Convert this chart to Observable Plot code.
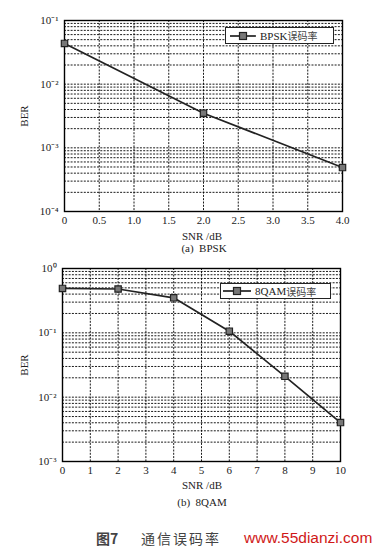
<!DOCTYPE html>
<html>
<head>
<meta charset="utf-8">
<script src="https://cdn.jsdelivr.net/npm/d3@7"></script>
<script src="https://cdn.jsdelivr.net/npm/@observablehq/plot@0.6"></script>
<style>
  html, body { margin: 0; padding: 0; background: #fff; }
  #page { position: relative; width: 378px; height: 551px; overflow: hidden; font-family: "Liberation Serif", "Noto Sans CJK SC", serif; color: #222; }
  .lbl { font-size: 11px; line-height: 12px; height: 12px; text-align: center; margin-left: 62px; width: 280px; }
  .legend { position: absolute; background: #fff; border: 1px solid #222; box-sizing: border-box; font-size: 11px; display: flex; align-items: center; white-space: nowrap; }
  .legend svg { display: block; margin-right: 3px; }
  .cjk { font-family: "Noto Sans CJK SC", sans-serif; font-size: 10px; color: #444; }
  #caption { position: absolute; left: 0; top: 529px; width: 378px; height: 18px; }
  #caption span { position: absolute; top: 0; line-height: 18px; }
</style>
</head>
<body>
<div id="page">
  <div id="c1"></div>
  <div class="lbl" style="margin-top:4px">SNR /dB</div>
  <div class="lbl" style="margin-left:64px">(a)&nbsp; BPSK</div>
  <div id="c2"></div>
  <div class="lbl" style="margin-top:3px">SNR /dB</div>
  <div class="lbl" style="margin-top:5px">(b)&nbsp; 8QAM</div>

  <div class="legend" style="left:225px;top:27px;width:109px;height:17px;padding-left:3px">
    <svg width="28" height="10"><line x1="1" y1="5" x2="27" y2="5" stroke="#222" stroke-width="1.7"/><rect x="10.5" y="1.5" width="7" height="7" fill="#777" stroke="#222" stroke-width="1.2"/></svg>
    <span>BPSK</span><span class="cjk">误码率</span>
  </div>
  <div class="legend" style="left:220px;top:283px;width:111px;height:16px;padding-left:1px">
    <svg width="30" height="10"><line x1="1" y1="5" x2="29" y2="5" stroke="#222" stroke-width="1.7"/><rect x="11.5" y="1.5" width="7" height="7" fill="#777" stroke="#222" stroke-width="1.2"/></svg>
    <span>8QAM</span><span class="cjk">误码率</span>
  </div>

  <div id="caption">
    <span style="left:96px;font-family:'Noto Sans CJK SC';font-size:14px;font-weight:bold;color:#444">图7</span>
    <span style="left:141px;font-family:'Noto Sans CJK SC';font-size:14px;letter-spacing:2px;color:#444">通信误码率</span>
    <span style="left:244px;font-family:'Liberation Sans',Arial,sans-serif;font-size:15.5px;color:#d01818">www.55dianzi.com</span>
  </div>
</div>
<script>
// ---- data ----
const snrBpsk = [0, 2, 4];
const berBpsk = [0.0436, 0.0035, 0.00049];
const snr8qam = [0, 2, 4, 6, 8, 10];
const ber8qam = [0.49, 0.48, 0.35, 0.106, 0.0211, 0.00403];

const xTicksBpsk = [0, 0.5, 1, 1.5, 2, 2.5, 3, 3.5, 4];
const xLabelsBpsk = ["0", "0.5", "1.0", "1.5", "2.0", "2.5", "3.0", "3.5", "4.0"];
const xTicks8qam = [0, 1, 2, 3, 4, 5, 6, 7, 8, 9, 10];
const yTicksBpsk = [1e-4, 1e-3, 1e-2, 1e-1];
const yTicks8qam = [1e-3, 1e-2, 1e-1, 1];

const SUP = {"-": "⁻", "0": "⁰", "1": "¹", "2": "²", "3": "³", "4": "⁴"};
function powLabel(d) {
  const e = String(Math.round(Math.log10(d)));
  return "10" + e.split("").map(c => SUP[c]).join("");
}

function logGrid(lo, hi) {
  const out = [];
  for (let e = lo; e < hi; e++) for (let m = 1; m <= 9; m++) out.push(m * Math.pow(10, e));
  out.push(Math.pow(10, hi));
  return out;
}

function chart({xs, ys, xTicks, xLabels, yTicks, xDomain, yExp, height, mt, mb, ml, mr}) {
  const data = xs.map((x, i) => ({x, y: ys[i]}));
  const yDomain = [Math.pow(10, yExp[0]), Math.pow(10, yExp[1])];
  const xFmt = new Map(xTicks.map((t, i) => [t, xLabels[i]]));
  return Plot.plot({
    width: 378, height,
    marginTop: mt, marginBottom: mb, marginLeft: ml, marginRight: mr,
    style: {fontFamily: "'Liberation Serif', serif", fontSize: "11px", color: "#222", background: "white"},
    x: {domain: xDomain},
    y: {type: "log", domain: yDomain},
    marks: [
      Plot.gridY(logGrid(yExp[0], yExp[1]), {stroke: "#000", strokeOpacity: 1, strokeWidth: 0.9, strokeDasharray: "2,1.3"}),
      Plot.gridX(xTicks, {stroke: "#000", strokeOpacity: 1, strokeWidth: 0.9, strokeDasharray: "2,1.3"}),
      Plot.axisX(xTicks, {tickSize: 0, tickPadding: 5, tickFormat: d => xFmt.get(d), label: null}),
      Plot.axisY(yTicks, {tickSize: 0, tickPadding: 6, tickFormat: powLabel, label: "BER", labelAnchor: "center", labelArrow: "none", labelOffset: ml - 20}),
      Plot.frame({stroke: "#000", strokeWidth: 1.4}),
      Plot.line(data, {x: "x", y: "y", stroke: "#222", strokeWidth: 1.7}),
      Plot.dot(data, {x: "x", y: "y", symbol: "square", r: 3.6, fill: "#777", stroke: "#222", strokeWidth: 1.2})
    ]
  });
}

document.getElementById("c1").append(chart({
  xs: snrBpsk, ys: berBpsk, xTicks: xTicksBpsk, xLabels: xLabelsBpsk,
  yTicks: yTicksBpsk, xDomain: [0, 4], yExp: [-4, -1],
  height: 226, mt: 20, mb: 15, ml: 64, mr: 36
}));
document.getElementById("c2").append(chart({
  xs: snr8qam, ys: ber8qam, xTicks: xTicks8qam, xLabels: xTicks8qam.map(String),
  yTicks: yTicks8qam, xDomain: [0, 10], yExp: [-3, 0],
  height: 222, mt: 14, mb: 15, ml: 62, mr: 38
}));
</script>
</body>
</html>
